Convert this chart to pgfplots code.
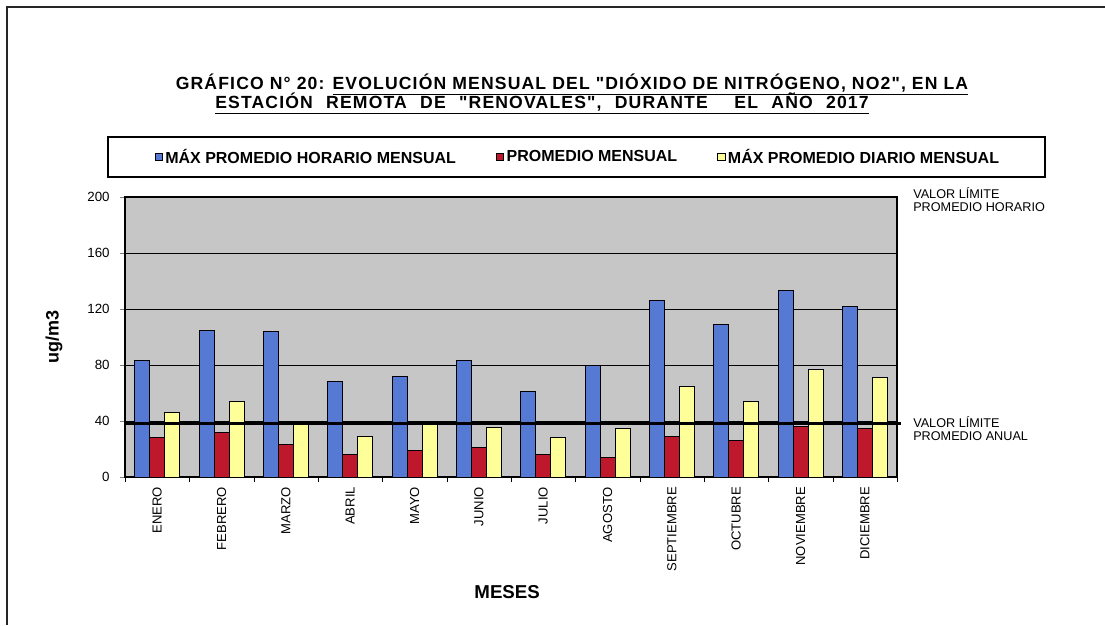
\documentclass[border=0pt]{standalone}
\usepackage{pgfplots}
\pgfplotsset{compat=1.18}
\usepackage{fontspec}
\setmainfont{Liberation Sans}[Ligatures=TeXOff]
\definecolor{cblue}{RGB}{86,122,212}
\definecolor{cred}{RGB}{190,24,44}
\definecolor{cyel}{RGB}{255,255,153}
\definecolor{cbg}{RGB}{198,198,198}
\begin{document}
\begin{tikzpicture}[x=0.75pt,y=0.75pt]
\path[use as bounding box] (0,0) rectangle (1105,625);
\draw[line width=1.1pt, black!85] (7,0) -- (7,618) -- (1105,618);
% title
\node[anchor=base, font=\bfseries\fontsize{13.2}{14}\selectfont\addfontfeatures{LetterSpace=6.5}] at (572,625-90)
  {GRÁFICO N° 20: \underline{EVOLUCIÓN MENSUAL DEL "DIÓXIDO DE NITRÓGENO, NO2", EN LA}};
\node[anchor=base, font=\bfseries\fontsize{13.2}{14}\selectfont\addfontfeatures{LetterSpace=6.5}] at (542,625-109)
  {\spaceskip=10pt\underline{ESTACIÓN REMOTA DE "RENOVALES", DURANTE \ EL AÑO 2017}};
% legend frame
\draw[line width=1pt] (108,625-137) rectangle (1045,625-177);
% limit labels
\node[anchor=north west, align=left, inner sep=0pt, font=\fontsize{9.5}{10}\selectfont] at (913,625-187)
  {VALOR LÍMITE\\PROMEDIO HORARIO};
\node[anchor=north west, align=left, inner sep=0pt, font=\fontsize{9.5}{10}\selectfont] at (913,625-416)
  {VALOR LÍMITE\\PROMEDIO ANUAL};
\begin{axis}[
  at={(93.75pt,111pt)}, anchor=south west,
  scale only axis, width=579pt, height=210pt,
  ybar=0pt, bar width=11.25pt,
  xmin=-0.5, xmax=11.5, ymin=0, ymax=200,
  ytick={0,40,...,200},
  xtick={0,...,11},
  xticklabels={ENERO,FEBRERO,MARZO,ABRIL,MAYO,JUNIO,JULIO,AGOSTO,SEPTIEMBRE,OCTUBRE,NOVIEMBRE,DICIEMBRE},
  x tick label style={rotate=90, anchor=east, font=\fontsize{9.8}{11}\selectfont},
  y tick label style={font=\fontsize{10}{12}\selectfont, xshift=-4pt},
  major x tick style={draw=none},
  minor xtick={-0.5,0.5,...,11.5},
  minor x tick style={draw=black},
  minor tick length=4pt, major tick length=4pt,
  tick align=outside, ytick pos=left, xtick pos=bottom,
  ymajorgrids, grid style={black, line width=0.6pt},
  axis background/.style={fill=cbg},
  axis line style={black, line width=0.8pt},
  ylabel={\bfseries ug/m3},
  ylabel style={at={(axis description cs:-0.092,0.5)}, anchor=center, font=\fontsize{13.5}{15}\selectfont},
  xlabel={\bfseries MESES},
  xlabel style={at={(axis description cs:0.495,-0.41)}, anchor=center, font=\fontsize{14}{16}\selectfont},
  clip=false,
  /pgf/number format/assume math mode=true,
  legend columns=3,
  legend style={at={(axis description cs:0.587,1.143)}, anchor=center, draw=none, fill=none,
    font=\bfseries\fontsize{12}{13}\selectfont,
    /tikz/every even column/.append style={column sep=28pt}},
  legend image code/.code={\draw[#1, draw=black, line width=0.4pt] (0pt,-2.8pt) rectangle (5.6pt,2.8pt);},
]
\addplot[fill=cblue, draw=black, line width=0.6pt] coordinates {
(0,83) (1,105) (2,104) (3,68) (4,72) (5,83) (6,61) (7,80) (8,126) (9,109) (10,133) (11,122)};
\addplot[fill=cred, draw=black, line width=0.6pt] coordinates {
(0,28) (1,32) (2,23) (3,16) (4,19) (5,21) (6,16) (7,14) (8,29) (9,26) (10,36) (11,35)};
\addplot[fill=cyel, draw=black, line width=0.6pt] coordinates {
(0,46) (1,54) (2,38) (3,29) (4,38) (5,35.5) (6,28) (7,35) (8,64.5) (9,54) (10,77) (11,71)};
\addplot[sharp plot, forget plot, black, line width=2.2pt] coordinates {(-0.5,200) (11.5,200)};
\addplot[sharp plot, forget plot, black, line width=2.2pt] coordinates {(-0.5,38.5) (11.56,38.5)};
\legend{MÁX PROMEDIO HORARIO MENSUAL,PROMEDIO MENSUAL,MÁX PROMEDIO DIARIO MENSUAL}
\end{axis}
\end{tikzpicture}
\end{document}
